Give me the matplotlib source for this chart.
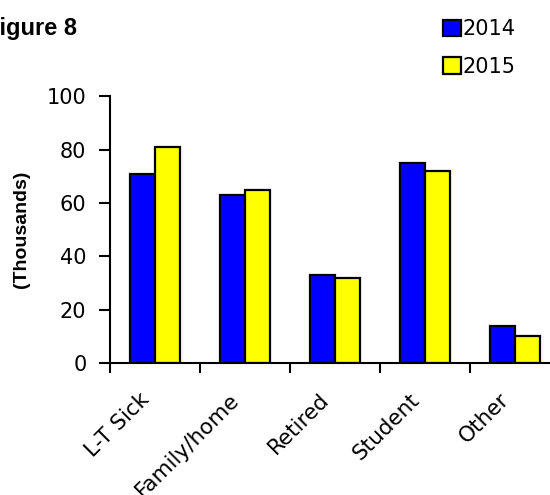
import matplotlib.pyplot as plt
import matplotlib.transforms as mtransforms
import numpy as np

plt.rcParams['font.family'] = ['DejaVu Sans']

categories = ['L-T Sick', 'Family/home', 'Retired', 'Student', 'Other']
years = ['2014', '2015']
values_2014 = [71, 63, 33, 75, 14]
values_2015 = [81, 65, 32, 72, 10]
y_ticks = [0, 20, 40, 60, 80, 100]

colours = ['#0000ff', '#ffff00']

fig = plt.figure(figsize=(5.5, 4.95), dpi=100)
ax = fig.add_axes([0.2, 0.2667, 0.818, 0.539])

x = np.arange(len(categories))
width = 0.28
ax.bar(x - width / 2, values_2014, width, color=colours[0],
       edgecolor='black', linewidth=1.6, label=years[0])
ax.bar(x + width / 2, values_2015, width, color=colours[1],
       edgecolor='black', linewidth=1.6, label=years[1])

ax.set_xlim(-0.5, len(categories) - 0.5)
ax.set_ylim(0, 100)
ax.set_yticks(y_ticks)
ax.tick_params(axis='y', labelsize=15, length=8, width=1.5, direction='out',
               pad=9)

# ticks sit between groups, labels centred under each group
ax.set_xticks(np.arange(len(categories)) - 0.5)
ax.set_xticklabels([])
ax.set_xticks(x, minor=True)
ax.set_xticklabels(categories, minor=True, rotation=45, ha='right',
                   rotation_mode='anchor', fontsize=15.5)
ax.tick_params(axis='x', which='major', length=7, width=1.5, direction='out')
ax.tick_params(axis='x', which='minor', length=0, pad=19)
shift = mtransforms.ScaledTranslation(-16 / 100, 0, fig.dpi_scale_trans)
for lbl in ax.get_xticklabels(minor=True):
    lbl.set_transform(lbl.get_transform() + shift)

for side in ['top', 'right']:
    ax.spines[side].set_visible(False)
for side in ['left', 'bottom']:
    ax.spines[side].set_linewidth(1.5)

fig.text(0.04, 0.537, '(Thousands)', rotation=90, ha='center', va='center',
         fontsize=14, fontweight='bold', family='Liberation Sans')

fig.legend(loc='upper left', bbox_to_anchor=(0.79, 0.978), frameon=False,
           fontsize=15, handlelength=0.85, handleheight=0.85,
           handletextpad=0.1, labelspacing=0.85, borderaxespad=0)

fig.text(-0.028, 0.93, 'Figure 8', fontsize=17, fontweight='bold',
         family='Liberation Sans')
fig.text(0.0, 1.0095, 'Inactive people, reasons given', fontsize=17,
         fontweight='bold', family='Liberation Sans', va='baseline')

fig.savefig('out.png', dpi=100)
